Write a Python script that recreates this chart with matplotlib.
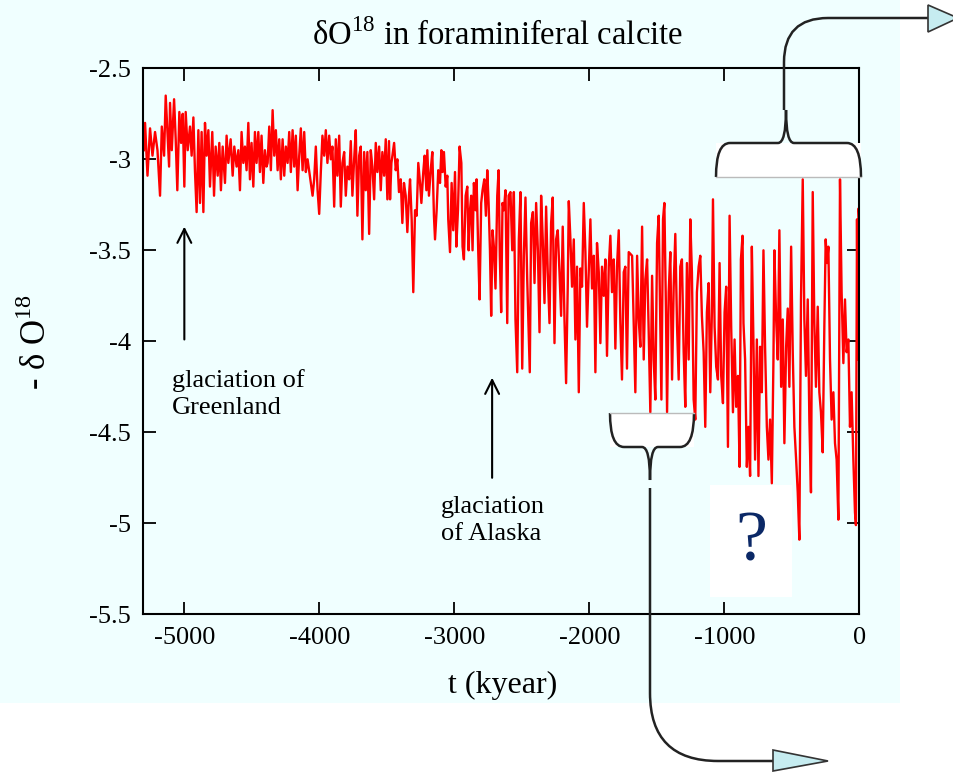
import matplotlib
matplotlib.use('Agg')
import matplotlib.pyplot as plt
from matplotlib.patches import Rectangle, Polygon, PathPatch
from matplotlib.path import Path
from matplotlib.ticker import FuncFormatter

plt.rcParams['font.family'] = ['Liberation Serif', 'DejaVu Serif']
plt.rcParams['mathtext.fontset'] = 'custom'
plt.rcParams['mathtext.rm'] = 'Liberation Serif'
plt.rcParams['axes.unicode_minus'] = False

# time (kyear) and -dO18 in six stretches
seg1_t = [-5300, -5291, -5273, -5254, -5236, -5217, -5199, -5180, -5167, -5150,
          -5138, -5123, -5113, -5106, -5093, -5076, -5064, -5052, -5037, -5024,
          -5012, -5000, -4990, -4975, -4958, -4946, -4933, -4921, -4909, -4896,
          -4884, -4872, -4859, -4847, -4835, -4822, -4810, -4793, -4780, -4768,
          -4753, -4741, -4729, -4716, -4699, -4687, -4674, -4657, -4642, -4630,
          -4613, -4600, -4588, -4576, -4563, -4551, -4539, -4526, -4514, -4502,
          -4489, -4477, -4465, -4452, -4440, -4428, -4415, -4403, -4391]
seg1_v = [-2.95, -2.80, -3.09, -2.83, -2.98, -2.85, -2.95, -3.20, -2.82, -2.98,
          -2.65, -2.89, -3.04, -2.69, -2.95, -2.67, -2.89, -3.17, -2.74, -2.91,
          -2.75, -3.15, -2.74, -2.95, -2.82, -2.98, -2.77, -3.07, -3.29, -2.84,
          -3.24, -2.85, -3.29, -2.80, -2.98, -2.84, -3.15, -2.85, -3.20, -2.93,
          -3.09, -2.91, -3.17, -2.93, -3.13, -2.87, -3.02, -2.89, -3.09, -2.93,
          -3.04, -2.95, -3.17, -2.85, -3.02, -2.93, -3.06, -2.80, -3.11, -2.91,
          -3.15, -2.85, -3.02, -2.85, -3.07, -2.87, -3.13, -2.95, -3.04]

seg2_t = [-4383, -4371, -4359, -4346, -4334, -4322, -4309, -4297, -4285, -4272,
          -4260, -4248, -4235, -4223, -4211, -4198, -4186, -4174, -4161, -4149,
          -4137, -4124, -4112, -4100, -4087, -4050, -4038, -4026, -4013, -4001,
          -3989, -3977, -3964, -3952, -3940, -3927, -3915, -3903, -3890, -3878,
          -3866, -3853, -3841, -3829, -3816, -3804, -3792, -3779, -3767, -3755,
          -3742, -3730, -3718, -3705, -3693, -3681, -3668, -3656, -3644, -3631,
          -3619, -3607, -3594, -3582, -3570, -3557, -3545, -3533, -3520, -3508,
          -3496]
seg2_v = [-3.02, -2.82, -3.06, -2.73, -2.98, -2.84, -3.06, -2.89, -3.11, -2.89,
          -3.09, -2.93, -3.02, -2.85, -3.07, -2.84, -3.04, -2.87, -3.17, -2.98,
          -2.83, -3.06, -2.85, -3.07, -3.00, -3.20, -3.11, -2.93, -3.17, -3.30,
          -3.07, -2.87, -2.98, -2.84, -3.02, -2.87, -3.00, -2.93, -3.26, -2.89,
          -3.09, -2.87, -3.26, -3.02, -2.96, -3.20, -3.04, -3.11, -2.90, -3.20,
          -3.00, -2.84, -3.31, -2.98, -2.93, -3.44, -2.96, -3.17, -2.96, -3.41,
          -2.95, -3.04, -3.22, -2.91, -3.07, -2.93, -3.17, -2.96, -3.09, -2.89,
          -3.22]

seg3_t = [-3484, -3476, -3466, -3446, -3434, -3422, -3410, -3397, -3385, -3373,
          -3360, -3348, -3336, -3328, -3316, -3304, -3291, -3279, -3267, -3254,
          -3244, -3230, -3220, -3207, -3200, -3188, -3175, -3163, -3151, -3143,
          -3131, -3119, -3106, -3096, -3087, -3077, -3064, -3052, -3045, -3032,
          -3020, -3008, -2995, -2985, -2973, -2961, -2948, -2939, -2929, -2916,
          -2904, -2894, -2884, -2875, -2865, -2855, -2842, -2835, -2823, -2813,
          -2801, -2791, -2778, -2766, -2756, -2746, -2736, -2727, -2717, -2707,
          -2695, -2682, -2672, -2663, -2653, -2643, -2633, -2621, -2608, -2598]
seg3_v = [-2.90, -3.22, -3.02, -2.91, -3.06, -3.00, -3.18, -3.11, -3.35, -3.13,
          -3.20, -3.40, -3.20, -3.11, -3.33, -3.73, -3.28, -3.31, -3.02, -3.13,
          -3.24, -3.07, -2.98, -3.17, -2.95, -3.20, -3.06, -2.96, -3.31, -3.44,
          -3.28, -3.06, -3.13, -2.95, -3.07, -2.96, -3.15, -3.09, -3.33, -3.51,
          -3.13, -3.39, -3.07, -3.48, -3.28, -2.93, -3.02, -3.48, -3.55, -3.20,
          -3.15, -3.50, -3.28, -3.20, -3.50, -3.13, -3.28, -3.11, -3.50, -3.77,
          -3.24, -3.17, -3.11, -3.31, -3.06, -3.24, -3.50, -3.86, -3.39, -3.48,
          -3.71, -3.20, -3.06, -3.53, -3.84, -3.24, -3.28, -3.17, -3.90, -3.20]

seg4_t = [-2584, -2571, -2559, -2547, -2534, -2522, -2510, -2497, -2485, -2473,
          -2460, -2448, -2441, -2431, -2418, -2406, -2394, -2381, -2369, -2357,
          -2345, -2332, -2320, -2308, -2295, -2283, -2271, -2258, -2246, -2234,
          -2221, -2209, -2197, -2184, -2172, -2160, -2152, -2140, -2128, -2115,
          -2103, -2091, -2078, -2066, -2054, -2041, -2029, -2017, -2004, -1992,
          -1980, -1967, -1955, -1943, -1930, -1918, -1906, -1893, -1881, -1869,
          -1856, -1844, -1832, -1819, -1807, -1795, -1782, -1770, -1758, -1745,
          -1733, -1721, -1708]
seg4_v = [-3.18, -3.50, -3.18, -3.88, -4.17, -3.44, -3.18, -4.15, -3.53, -3.21,
          -3.66, -3.99, -4.17, -3.35, -3.29, -3.68, -3.24, -3.50, -3.95, -3.20,
          -3.44, -3.79, -3.26, -3.62, -3.90, -3.35, -3.21, -4.01, -3.44, -3.39,
          -3.62, -3.86, -3.37, -3.88, -4.23, -3.71, -3.23, -3.44, -3.70, -3.44,
          -3.99, -3.59, -4.28, -3.60, -3.70, -3.24, -3.51, -3.92, -3.62, -3.33,
          -3.71, -3.53, -4.17, -3.46, -3.62, -4.01, -3.59, -3.75, -3.55, -4.08,
          -3.59, -3.42, -3.73, -3.55, -4.04, -3.59, -3.39, -3.90, -4.21, -3.62,
          -3.59, -4.15, -3.51]

seg5_t = [-1683, -1659, -1646, -1634, -1622, -1609, -1597, -1585, -1572, -1560,
          -1548, -1535, -1523, -1511, -1498, -1486, -1474, -1466, -1454, -1444,
          -1432, -1424, -1412, -1400, -1387, -1375, -1363, -1350, -1338, -1326,
          -1314, -1301, -1289, -1277, -1264, -1252, -1240, -1227, -1215, -1203,
          -1190, -1178, -1166, -1153, -1141, -1129, -1116, -1104, -1092, -1084,
          -1072, -1060, -1047, -1035, -1023, -1010, -998, -986, -973, -961,
          -949, -936, -924, -912, -899, -887, -877, -865]
seg5_v = [-3.53, -4.28, -3.53, -3.88, -4.03, -3.37, -4.10, -3.66, -3.55, -3.95,
          -4.39, -3.64, -4.10, -4.32, -3.46, -3.31, -3.92, -4.32, -3.33, -3.24,
          -3.84, -4.39, -3.73, -3.51, -4.21, -3.70, -3.41, -3.92, -4.21, -3.59,
          -3.55, -4.06, -4.36, -3.57, -4.10, -3.33, -3.62, -4.32, -4.43, -3.73,
          -3.59, -3.53, -3.86, -4.06, -4.47, -3.84, -3.68, -4.28, -3.84, -3.22,
          -3.92, -4.14, -4.21, -3.57, -4.19, -4.34, -3.84, -3.70, -4.58, -3.31,
          -3.92, -4.39, -3.99, -4.36, -4.19, -4.69, -3.55, -3.42]

seg6_t = [-858, -846, -833, -821, -809, -796, -784, -772, -759, -747,
          -735, -722, -710, -698, -685, -673, -661, -648, -636, -629,
          -616, -604, -592, -579, -567, -555, -542, -530, -518, -505,
          -493, -481, -468, -456, -444, -432, -419, -407, -395, -382,
          -370, -358, -345, -333, -321, -308, -296, -284, -271, -259,
          -249, -239, -229, -217, -205, -192, -180, -168, -155, -143,
          -131, -118, -106, -94, -81, -69, -57, -44, -32, -25,
          -17, -12, -5, 0]
seg6_v = [-3.90, -4.10, -4.69, -4.47, -4.74, -3.48, -4.01, -4.65, -3.99, -4.74,
          -4.03, -4.28, -3.50, -4.03, -4.47, -4.65, -4.43, -4.78, -4.10, -3.50,
          -3.88, -4.10, -3.39, -4.25, -3.88, -4.56, -4.03, -3.82, -4.25, -3.48,
          -4.06, -4.47, -4.65, -4.83, -5.09, -3.77, -3.11, -3.88, -4.19, -3.77,
          -4.43, -4.83, -3.18, -3.90, -4.25, -3.81, -4.28, -4.39, -4.61, -3.92,
          -3.44, -3.57, -3.48, -4.10, -4.43, -4.28, -4.56, -4.65, -4.98, -3.11,
          -3.73, -4.12, -3.77, -4.06, -3.99, -4.47, -4.28, -4.65, -4.94, -5.01,
          -3.33, -4.10, -3.27, -3.35]

t = seg1_t + seg2_t + seg3_t + seg4_t + seg5_t + seg6_t
d18o = seg1_v + seg2_v + seg3_v + seg4_v + seg5_v + seg6_v

xticks = [-5000, -4000, -3000, -2000, -1000, 0]
yticks = [-2.5, -3, -3.5, -4, -4.5, -5, -5.5]

W, H = 954, 772
BG = '#F0FFFF'

fig = plt.figure(figsize=(W / 100, H / 100), dpi=100, facecolor='white')
fig.patches.append(Rectangle((0, 1 - 703 / H), 900 / W, 703 / H,
                             transform=fig.transFigure, facecolor=BG,
                             edgecolor='none', zorder=-5))

ax = fig.add_axes([143.3 / W, 1 - 614.3 / H, 716 / W, 546 / H], zorder=1)
ax.set_facecolor(BG)
ax.plot(t, d18o, color='#FF0000', lw=1.7, zorder=2)
ax.set_xlim(-5304, 0)
ax.set_ylim(-5.5, -2.5)
ax.set_xticks(xticks)
ax.set_yticks(yticks)
fmt = FuncFormatter(lambda v, pos: '%g' % v)
ax.xaxis.set_major_formatter(fmt)
ax.yaxis.set_major_formatter(fmt)
ax.tick_params(direction='in', length=9, width=1.3, labelsize=19,
               top=True, right=True, pad=9)
for s in ax.spines.values():
  s.set_linewidth(1.5)

# annotations on the curve
ax.annotate('', xy=(-5000, -3.37), xytext=(-5000, -3.99),
            arrowprops=dict(arrowstyle='->,head_length=0.5,head_width=0.25',
                            lw=1.5, color='black', shrinkA=0, shrinkB=0,
                            mutation_scale=20))
ax.text(-5090, -4.15, 'glaciation of\nGreenland', ha='left', va='top',
        fontsize=19, linespacing=1.3)
ax.annotate('', xy=(-2720, -4.20), xytext=(-2720, -4.75),
            arrowprops=dict(arrowstyle='->,head_length=0.5,head_width=0.25',
                            lw=1.5, color='black', shrinkA=0, shrinkB=0,
                            mutation_scale=20))
ax.text(-3098, -4.85, 'glaciation\nof Alaska', ha='left', va='top',
        fontsize=19, linespacing=1.3)

fig.text(498 / W, 1 - 45 / H, r'δO$^{\mathrm{18}}$ in foraminiferal calcite',
         ha='center', va='baseline', fontsize=23.5)
fig.text(37 / W, 1 - 342 / H, r'- δ O$^{\mathrm{18}}$', rotation=90,
         ha='center', va='center', fontsize=25)
fig.text(503 / W, 1 - 693 / H, 't (kyear)', ha='center', va='baseline',
         fontsize=23)

# overlay in pixel units for the braces, connectors and the "?" box
ov = fig.add_axes([0, 0, 1, 1], zorder=5)
ov.set_xlim(0, W)
ov.set_ylim(H, 0)
ov.axis('off')
ov.patch.set_alpha(0)

M, L, C = Path.MOVETO, Path.LINETO, Path.CURVE3

# top brace, pointing up
ov.add_patch(Rectangle((716, 143), 145, 34, facecolor='white', edgecolor='none'))
ov.plot([716, 861], [177, 177], color='#BBBBBB', lw=1)
top_brace = Path([(716, 177), (716, 143), (730, 143), (778, 143),
                  (786, 143), (786, 110), (786, 143), (794, 143),
                  (847, 143), (861, 143), (861, 177)],
                 [M, C, C, L, C, C, C, C, L, C, C])
ov.add_patch(PathPatch(top_brace, facecolor='none', edgecolor='#222222', lw=1.8))

# lower brace, pointing down
ov.add_patch(Rectangle((610, 413), 84, 34, facecolor='white', edgecolor='none'))
ov.plot([610, 694], [413, 413], color='#BBBBBB', lw=1)
low_brace = Path([(610, 413), (610, 447), (624, 447), (642, 447),
                  (650, 447), (650, 480), (650, 447), (658, 447),
                  (680, 447), (694, 447), (694, 413)],
                 [M, C, C, L, C, C, C, C, L, C, C])
ov.add_patch(PathPatch(low_brace, facecolor='none', edgecolor='#222222', lw=1.8))

# connectors with arrow heads
up_link = Path([(784, 110), (784, 62), (784, 18), (828, 18), (928, 18)],
               [M, L, C, C, L])
ov.add_patch(PathPatch(up_link, facecolor='none', edgecolor='#222222', lw=1.8))
ov.add_patch(Polygon([(928, 5), (928, 32), (958, 18)], closed=True,
                     facecolor='#C6ECF0', edgecolor='#333333', lw=1.2))

down_link = Path([(650, 488), (650, 693), (650, 761), (718, 761), (773, 761)],
                 [M, L, C, C, L])
ov.add_patch(PathPatch(down_link, facecolor='none', edgecolor='#222222', lw=1.8))
ov.add_patch(Polygon([(773, 750), (773, 771), (828, 761)], closed=True,
                     facecolor='#C6ECF0', edgecolor='#333333', lw=1.2))

# question mark box
ov.add_patch(Rectangle((710, 485), 82, 112, facecolor='white', edgecolor='none'))
ov.text(751, 543, '?', ha='center', va='center', fontsize=52, color='#0B2866')

fig.savefig('out.png', dpi=100, facecolor='white')
